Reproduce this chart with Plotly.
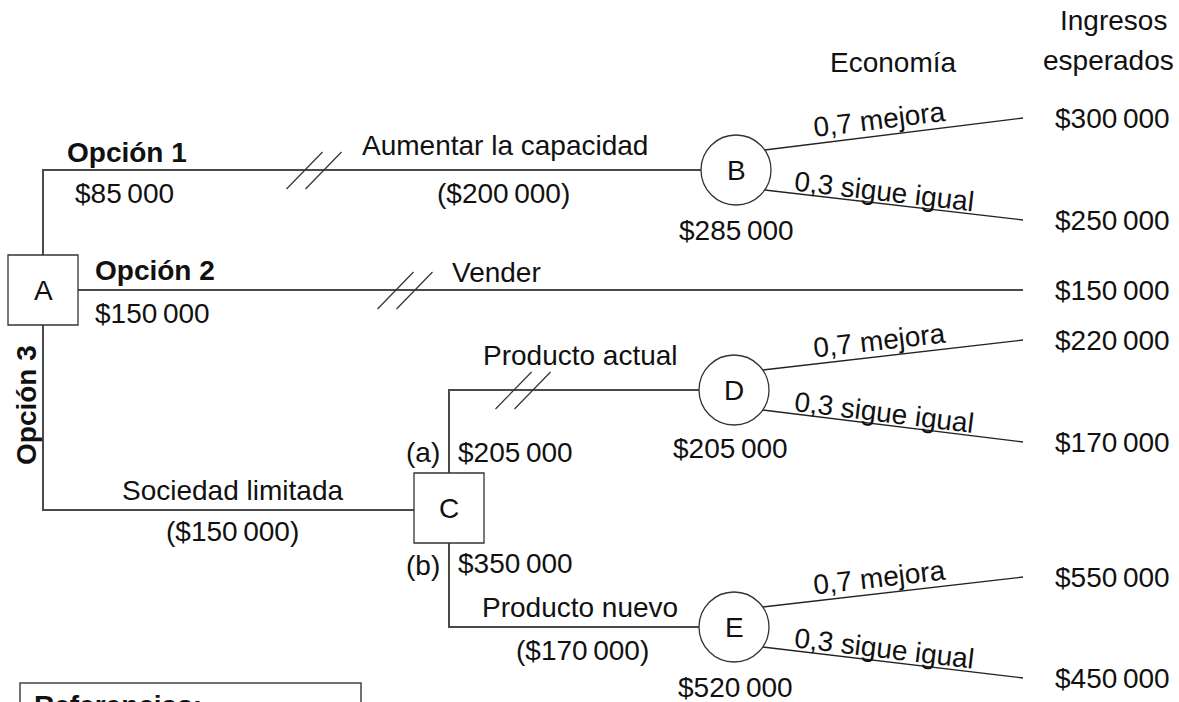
import math
import plotly.graph_objects as go

# ---------------- data (values and texts) ----------------
decision_labels = ["A", "C"]
chance_labels = ["B", "D", "E"]
option_labels = ["Opción 1", "Opción 2", "Opción 3"]
option_values = [85000, 150000]
action_labels = ["Aumentar la capacidad", "Vender", "Sociedad limitada",
                 "Producto actual", "Producto nuevo"]
action_costs = [200000, 150000, 170000]      # Aumentar, Sociedad, Producto nuevo
c_branch_tags = ["(a)", "(b)"]
c_branch_values = [205000, 350000]
chance_values = [285000, 205000, 520000]     # B, D, E
probabilities = [0.7, 0.3]
outcome_labels = ["mejora", "sigue igual"]
payoffs_B = [300000, 250000]
payoff_sell = [150000]
payoffs_D = [220000, 170000]
payoffs_E = [550000, 450000]
header_labels = ["Economía", "Ingresos", "esperados"]
legend_title = "Referencias:"

# ---------------- layout geometry (pixels) ----------------
W, H = 1179, 702
DEC = {"A": (43, 290), "C": (449, 508)}
HALF = 35
CH = {"B": (736, 170), "D": (734, 390), "E": (734, 627)}
R = 35
END_X = 1023
PAY_X = 1053
END_Y = {"B": (118, 220), "D": (340, 442), "E": (577, 678)}
SELL_Y = 290
OPT3_Y = 510

FONT = "Liberation Sans, Arial, sans-serif"
FS = 28
TXT = "#111111"
MAIN_LINE = dict(color="#4a4a4a", width=2)
THIN_LINE = dict(color="#222222", width=1.3)


def money(v, paren=False):
    s = "$" + f"{v:,}".replace(",", "\u2009")
    return f"({s})" if paren else s


def prob(p):
    return f"{p:.1f}".replace(".", ",")


fig = go.Figure()


def polyline(pts, line):
    fig.add_trace(go.Scatter(x=[p[0] for p in pts], y=[p[1] for p in pts],
                             mode="lines", line=line, hoverinfo="skip",
                             showlegend=False))


ax, ay = DEC["A"]
cx, cy = DEC["C"]
bx, by = CH["B"]
dx, dy = CH["D"]
ex, ey = CH["E"]

# main branches
polyline([(ax, ay - HALF), (ax, by), (bx - R, by)], MAIN_LINE)            # Opción 1
polyline([(ax + HALF, SELL_Y), (END_X, SELL_Y)], MAIN_LINE)               # Opción 2
polyline([(ax, ay + HALF), (ax, OPT3_Y), (cx - HALF, OPT3_Y)], MAIN_LINE)  # Opción 3
polyline([(cx, cy - HALF), (cx, dy), (dx - R, dy)], MAIN_LINE)           # (a)
polyline([(cx, cy + HALF), (cx, ey), (ex - R, ey)], MAIN_LINE)           # (b)

# chance branches
for name in chance_labels:
    px, py = CH[name]
    off = 20
    sx = px + math.sqrt(R * R - off * off)
    y_up, y_dn = END_Y[name]
    polyline([(sx, py - off), (END_X, y_up)], THIN_LINE)
    polyline([(sx, py + off), (END_X, y_dn)], THIN_LINE)

# hash marks (rejected branches)
for hx, hy in [(314, by), (405, SELL_Y), (523, dy)]:
    for off in (-9.5, 9.5):
        polyline([(hx + off - 18, hy + 19), (hx + off + 18, hy - 18)],
                 dict(color="#333333", width=1.2))

shapes = []
for name in decision_labels:
    x, y = DEC[name]
    shapes.append(dict(type="rect", xref="x", yref="y", x0=x - HALF, x1=x + HALF,
                       y0=y - HALF, y1=y + HALF, line=dict(color="#333", width=1.3),
                       fillcolor="white", layer="above"))
for name in chance_labels:
    x, y = CH[name]
    shapes.append(dict(type="circle", xref="x", yref="y", x0=x - R, x1=x + R,
                       y0=y - R, y1=y + R, line=dict(color="#333", width=1.3),
                       fillcolor="white", layer="above"))
# references box (cut at bottom)
shapes.append(dict(type="rect", xref="x", yref="y", x0=20, x1=361, y0=683, y1=760,
                   line=dict(color="#444", width=1.5), fillcolor="rgba(0,0,0,0)"))

ann = []


def text(x, y, s, xa="center", ya="middle", bold=False, angle=0, size=FS):
    if bold:
        s = f"<b>{s}</b>"
    ann.append(dict(x=x, y=y, xref="x", yref="y", text=s, showarrow=False,
                    xanchor=xa, yanchor=ya, textangle=angle,
                    font=dict(family=FONT, size=size, color=TXT)))


# node letters
for name in decision_labels:
    text(*DEC[name], name)
for name in chance_labels:
    text(*CH[name], name)

# options
text(65, 152, option_labels[0], xa="left", bold=True)
text(73, 193, money(option_values[0]), xa="left")
text(93, 270, option_labels[1], xa="left", bold=True)
text(93, 313, money(option_values[1]), xa="left")
text(26, 405, option_labels[2], bold=True, angle=-90)

# actions
text(505, 145, action_labels[0])
text(503, 193, money(action_costs[0], paren=True))
text(450, 272, action_labels[1], xa="left")
text(232, 490, action_labels[2])
text(232, 531, money(action_costs[1], paren=True))
text(580, 355, action_labels[3])
text(580, 607, action_labels[4])
text(582, 650, money(action_costs[2], paren=True))

# C branches
text(cx - 26, 452, c_branch_tags[0])
text(cx + 7, 452, money(c_branch_values[0]), xa="left")
text(cx - 26, 565, c_branch_tags[1])
text(cx + 7, 563, money(c_branch_values[1]), xa="left")

# chance node values
text(bx, 230, money(chance_values[0]))
text(dx - 4, 448, money(chance_values[1]))
text(ex + 1, 687, money(chance_values[2]))

# probability labels along branches
for name in chance_labels:
    px, py = CH[name]
    y_up, y_dn = END_Y[name]
    sx = px + math.sqrt(R * R - 400)
    ang_up = math.degrees(math.atan2((py - 20) - y_up, END_X - sx))
    ang_dn = math.degrees(math.atan2(y_dn - (py + 20), END_X - sx))
    text(879, (py - 20 + y_up) / 2 - 15, f"{prob(probabilities[0])} {outcome_labels[0]}",
         angle=-ang_up)
    text(884, (py + 20 + y_dn) / 2 - 14, f"{prob(probabilities[1])} {outcome_labels[1]}",
         angle=ang_dn)

# payoffs
for vals, ys in [(payoffs_B, END_Y["B"]), (payoffs_D, END_Y["D"]), (payoffs_E, END_Y["E"])]:
    for v, y in zip(vals, ys):
        text(PAY_X, y, money(v), xa="left")
text(PAY_X, SELL_Y, money(payoff_sell[0]), xa="left")

# headers
text(893, 62, header_labels[0])
text(1113, 20, header_labels[1])
text(1108, 60, header_labels[2])

# references title (cut by page bottom)
text(32, 688, legend_title, xa="left", ya="top", bold=True)

fig.update_layout(
    width=W, height=H, margin=dict(l=0, r=0, t=0, b=0),
    paper_bgcolor="white", plot_bgcolor="white",
    xaxis=dict(range=[0, W], visible=False, fixedrange=True),
    yaxis=dict(range=[H, 0], visible=False, fixedrange=True),
    shapes=shapes, annotations=ann, showlegend=False,
)

fig.write_html("out.html", config={"displayModeBar": False},
               post_script="document.body.style.margin='0';"
                           "document.body.style.overflow='hidden';")
